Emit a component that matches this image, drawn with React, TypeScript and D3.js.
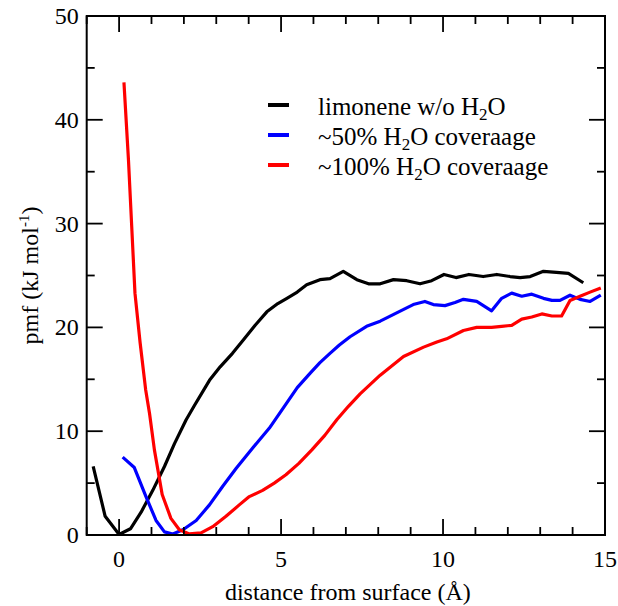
import React from "react";
import * as d3 from "d3";

const blackX = [-0.8, -0.43, 0, 0.35, 0.68, 1.04, 1.4, 1.71, 2.07, 2.33, 2.79, 3.12, 3.5, 3.84, 4.2, 4.56, 4.9, 5.18, 5.5, 5.79, 6.2, 6.51, 6.92, 7.34, 7.7, 8.06, 8.47, 8.88, 9.29, 9.65, 10.03, 10.4, 10.8, 11.24, 11.66, 12.07, 12.38, 12.69, 13.1, 13.5, 13.87, 14.33];
const blackY = [6.6, 1.8, 0.05, 0.6, 2.2, 4.3, 6.6, 8.8, 11.1, 12.5, 14.9, 16.2, 17.5, 18.8, 20.2, 21.5, 22.3, 22.8, 23.4, 24.1, 24.6, 24.7, 25.4, 24.6, 24.2, 24.2, 24.6, 24.5, 24.2, 24.5, 25.1, 24.8, 25.1, 24.9, 25.1, 24.9, 24.8, 24.9, 25.4, 25.3, 25.2, 24.3];

const blueX = [0.11, 0.47, 0.83, 1.14, 1.4, 1.66, 1.97, 2.38, 2.79, 3.2, 3.61, 4.13, 4.64, 5.15, 5.5, 5.9, 6.2, 6.51, 6.8, 7.13, 7.64, 8.06, 8.57, 9.08, 9.44, 9.7, 10.06, 10.37, 10.63, 11.04, 11.5, 11.81, 12.12, 12.43, 12.74, 13.1, 13.36, 13.61, 13.92, 14.23, 14.54, 14.87];
const blueY = [7.5, 6.5, 3.7, 1.4, 0.3, 0.1, 0.5, 1.4, 2.9, 4.7, 6.4, 8.4, 10.3, 12.6, 14.2, 15.6, 16.6, 17.5, 18.3, 19.1, 20.1, 20.6, 21.4, 22.2, 22.5, 22.2, 22.1, 22.4, 22.7, 22.5, 21.6, 22.8, 23.3, 23.0, 23.2, 22.8, 22.6, 22.6, 23.1, 22.7, 22.5, 23.1];

const redX = [0.15, 0.29, 0.39, 0.49, 0.65, 0.82, 0.94, 1.09, 1.33, 1.6, 1.86, 2.17, 2.53, 2.89, 3.3, 3.71, 4.02, 4.43, 4.79, 5.15, 5.55, 5.95, 6.35, 6.72, 7.08, 7.44, 8.06, 8.78, 9.4, 9.81, 10.11, 10.63, 11.04, 11.5, 11.81, 12.12, 12.43, 12.74, 13.05, 13.36, 13.66, 13.92, 14.23, 14.54, 14.87];
const redY = [43.6, 36.1, 29.7, 23.3, 18.5, 14.0, 11.7, 8.2, 3.9, 1.6, 0.5, 0.1, 0.2, 0.8, 1.8, 2.9, 3.7, 4.3, 5.0, 5.8, 6.9, 8.2, 9.6, 11.1, 12.4, 13.6, 15.4, 17.2, 18.1, 18.6, 18.9, 19.7, 20.0, 20.0, 20.1, 20.2, 20.8, 21.0, 21.3, 21.1, 21.1, 22.6, 23.0, 23.4, 23.8];

const xMajor = [0, 5, 10, 15];
const xMinor = [-1, 1, 2, 3, 4, 6, 7, 8, 9, 11, 12, 13, 14];
const yMajor = [0, 10, 20, 30, 40, 50];
const yMinor = [5, 15, 25, 35, 45];

const seriesNames = ["limonene w/o H2O", "~50% H2O coveraage", "~100% H2O coveraage"];
const seriesColors = ["#000000", "#0000ff", "#ff0000"];

export default function App() {
  const left = 86.7, right = 605, top = 16, bottom = 535;
  const x = d3.scaleLinear().domain([-1, 15]).range([left, right]);
  const y = d3.scaleLinear().domain([0, 50]).range([bottom, top]);
  const line = d3.line<[number, number]>().x((d) => x(d[0])).y((d) => y(d[1]));
  const series = [
    blackX.map((v, i) => [v, blackY[i]] as [number, number]),
    blueX.map((v, i) => [v, blueY[i]] as [number, number]),
    redX.map((v, i) => [v, redY[i]] as [number, number]),
  ];
  const font = "Liberation Serif, Times New Roman, Tinos, DejaVu Serif, serif";
  const majorLen = 16, minorLen = 8;
  const legendY = [105, 135, 165];

  const renderName = (name: string) => {
    const parts = name.split("H2O");
    return (
      <>
        {parts[0]}H<tspan dy={5} fontSize={17}>2</tspan>
        <tspan dy={-5}>O{parts[1]}</tspan>
      </>
    );
  };

  return (
    <svg width={618} height={606} style={{ position: "absolute", left: 0, top: 0, background: "#fff", fontFamily: font }}>
      <rect x={0} y={0} width={618} height={606} fill="#fff" />
      <defs>
        <clipPath id="plotclip">
          <rect x={left} y={top} width={right - left} height={bottom - top} />
        </clipPath>
      </defs>
      <g clipPath="url(#plotclip)">
        {series.map((s, i) => (
          <path key={i} d={line(s) || ""} fill="none" stroke={seriesColors[i]} strokeWidth={3.2} strokeLinejoin="round" />
        ))}
      </g>
      <g stroke="#000" strokeWidth={1.8}>
        {xMajor.map((t) => (
          <g key={"xM" + t}>
            <line x1={x(t)} x2={x(t)} y1={bottom} y2={bottom - majorLen} />
            <line x1={x(t)} x2={x(t)} y1={top} y2={top + majorLen} />
          </g>
        ))}
        {xMinor.map((t) => (
          <g key={"xm" + t}>
            <line x1={x(t)} x2={x(t)} y1={bottom} y2={bottom - minorLen} />
            <line x1={x(t)} x2={x(t)} y1={top} y2={top + minorLen} />
          </g>
        ))}
        {yMajor.map((t) => (
          <g key={"yM" + t}>
            <line x1={left} x2={left + majorLen} y1={y(t)} y2={y(t)} />
            <line x1={right} x2={right - majorLen} y1={y(t)} y2={y(t)} />
          </g>
        ))}
        {yMinor.map((t) => (
          <g key={"ym" + t}>
            <line x1={left} x2={left + minorLen} y1={y(t)} y2={y(t)} />
            <line x1={right} x2={right - minorLen} y1={y(t)} y2={y(t)} />
          </g>
        ))}
      </g>
      <rect x={left} y={top} width={right - left} height={bottom - top} fill="none" stroke="#000" strokeWidth={2} />
      <g fontSize={24} fill="#000" style={{ fontFamily: font }}>
        {xMajor.map((t) => (
          <text key={"xl" + t} x={x(t)} y={bottom + 32} textAnchor="middle">{t}</text>
        ))}
        {yMajor.map((t) => (
          <text key={"yl" + t} x={left - 8} y={y(t) + 8} textAnchor="end">{t}</text>
        ))}
      </g>
      <text x={(left + right) / 2 + 2} y={600} fontSize={24} textAnchor="middle" style={{ fontFamily: font }}>distance from surface (Å)</text>
      <text transform={`translate(38,${(top + bottom) / 2}) rotate(-90)`} fontSize={24} textAnchor="middle" style={{ fontFamily: font }}>
        pmf (kJ mol<tspan dy={-9} fontSize={15}>-1</tspan><tspan dy={9}>)</tspan>
      </text>
      {seriesNames.map((n, i) => (
        <g key={"lg" + i}>
          <line x1={268} x2={289} y1={legendY[i]} y2={legendY[i]} stroke={seriesColors[i]} strokeWidth={4} />
          <text x={318} y={legendY[i] + 10} fontSize={25} style={{ fontFamily: font }}>{renderName(n)}</text>
        </g>
      ))}
    </svg>
  );
}
